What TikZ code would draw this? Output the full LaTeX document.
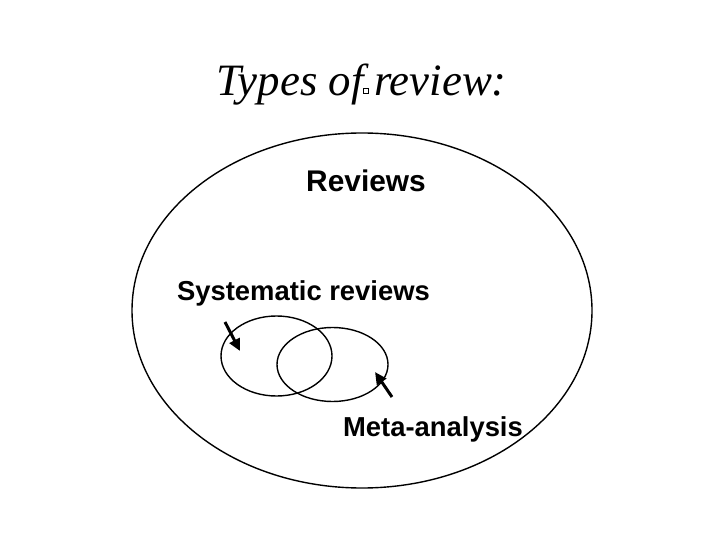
\documentclass[tikz,border=0pt]{standalone}
\usepackage{fontspec}
\setmainfont{Liberation Serif}
\setsansfont{Liberation Sans}
\usetikzlibrary{shapes.geometric,arrows.meta}
\tikzset{
  oval/.style={draw=black, ellipse, line width=1.4pt, inner sep=0pt},
  lbl/.style={font=\sffamily\bfseries, inner sep=0pt, anchor=base},
  pointer/.style={line width=3pt, -{Triangle[length=12bp,width=11bp]}}
}
\begin{document}
\begin{tikzpicture}[x=1bp,y=-1bp]
\useasboundingbox (0,0) rectangle (720,540);
\node[font=\itshape\fontsize{45}{45}\selectfont, inner sep=0pt, anchor=base] (title) at (361.5,96) {Types of\kern-1bp\raisebox{2bp}{\tikz\draw[line width=0.5pt] (0,0) rectangle (5bp,5bp);}\kern6bp review:};
\node[oval, minimum width=460bp, minimum height=355bp] (big) at (362,310.5) {};
\node[oval, minimum width=111bp, minimum height=80bp] (left) at (276.5,356) {};
\node[oval, minimum width=111bp, minimum height=74bp] (right) at (332.5,364.5) {};
\node[lbl, font=\sffamily\bfseries\fontsize{30}{30}\selectfont] (rev) at (366,192) {Reviews};
\node[lbl, font=\sffamily\bfseries\fontsize{27.5}{27.5}\selectfont] (sys) at (303.5,300) {Systematic reviews};
\node[lbl, font=\sffamily\bfseries\fontsize{27.5}{27.5}\selectfont] (meta) at (433,436) {Meta-analysis};
\coordinate (t1) at (225,322);
\coordinate (h1) at (240,351);
\coordinate (t2) at (392,397);
\coordinate (h2) at (375,372);
\draw[pointer] (t1) -- (h1);
\draw[pointer] (t2) -- (h2);
\end{tikzpicture}
\end{document}
